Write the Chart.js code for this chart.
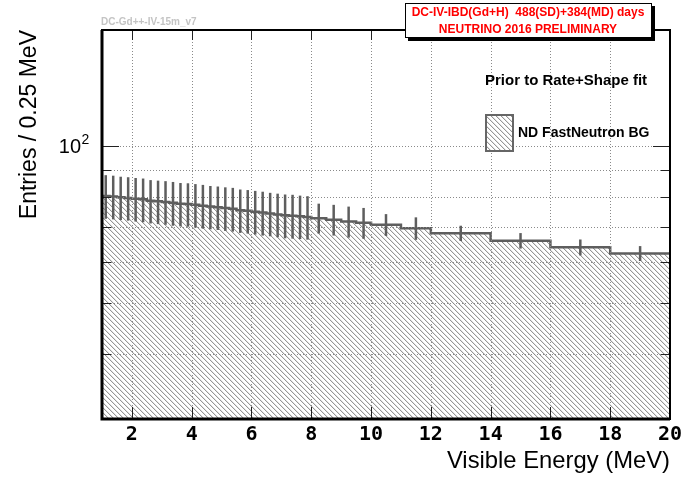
<!DOCTYPE html>
<html>
<head>
<meta charset="utf-8">
<script src="https://cdn.jsdelivr.net/npm/chart.js@4.4.1/dist/chart.umd.min.js"></script>
<style>
  html, body { margin: 0; padding: 0; background: #fff; }
</style>
</head>
<body>
<canvas id="chart-area" width="683" height="477"></canvas>
<script>
// bin edges (MeV): 0.25 MeV up to 8, then wider bins
var binEdges = [1, 1.25, 1.5, 1.75, 2, 2.25, 2.5, 2.75, 3, 3.25, 3.5, 3.75, 4, 4.25, 4.5, 4.75,
  5, 5.25, 5.5, 5.75, 6, 6.25, 6.5, 6.75, 7, 7.25, 7.5, 7.75, 8, 8.5, 9, 9.5, 10, 11, 12, 14, 16, 18, 20];
// entries / 0.25 MeV
var entries = [80.3, 80.1, 79.8, 79.6, 79.3, 79.1, 78.6, 78.4, 78.2, 77.9, 77.6, 77.5, 77.2, 76.9,
  76.6, 76.4, 76.1, 75.9, 75.4, 75.2, 74.9, 74.6, 74.3, 74.0, 73.7, 73.6, 73.4, 73.2,
  72.8, 72.3, 71.7, 71.3, 70.7, 69.6, 68.1, 65.9, 64.0, 62.3];
var errors = [7.7, 7.7, 7.6, 7.6, 7.6, 7.6, 7.5, 7.5, 7.5, 7.5, 7.4, 7.4, 7.4, 7.4,
  7.3, 7.3, 7.3, 7.3, 7.2, 7.2, 7.2, 7.2, 7.1, 7.1, 7.1, 7.1, 7.0, 7.0,
  4.8, 4.9, 4.9, 4.85, 3.4, 3.45, 2.3, 2.25, 2.25, 2.05];
var xTicks = [2, 4, 6, 8, 10, 12, 14, 16, 18, 20];
var yTicks = [40, 50, 60, 70, 80, 90, 100];

var canvas = document.getElementById("chart-area");
var ctx = canvas.getContext("2d");

// "\\\" hatch like the ROOT fill style
function makeHatch() {
  var n = 5;
  var c = document.createElement("canvas");
  c.width = n; c.height = n;
  var g = c.getContext("2d");
  var img = g.createImageData(n, n);
  for (var j = 0; j < n; j++) {
    for (var i = 0; i < n; i++) {
      var k = ((i - j) % n + n) % n;
      var v = k === 0 ? 150 : (k === 1 ? 228 : 255);
      var p = (j * n + i) * 4;
      img.data[p] = v; img.data[p + 1] = v; img.data[p + 2] = v; img.data[p + 3] = 255;
    }
  }
  g.putImageData(img, 0, 0);
  return ctx.createPattern(c, "repeat");
}
var hatch = makeHatch();

var histPoints = binEdges.map(function(x, i) {
  return { x: x, y: entries[Math.min(i, entries.length - 1)] };
});

var rootStyle = {
  id: "rootStyle",
  afterDatasetsDraw: function(chart) {
    var c = chart.ctx, a = chart.chartArea;
    var xs = chart.scales.x, ys = chart.scales.y;
    c.save();
    // dotted grid
    c.strokeStyle = "#8a8a8a";
    c.lineWidth = 1;
    c.setLineDash([1, 2]);
    xTicks.forEach(function(v) {
      if (v >= 20) return;
      var px = Math.round(xs.getPixelForValue(v)) + 0.5;
      c.beginPath(); c.moveTo(px, a.top); c.lineTo(px, a.bottom); c.stroke();
    });
    yTicks.forEach(function(v) {
      var py = Math.round(ys.getPixelForValue(v)) + 0.5;
      c.beginPath(); c.moveTo(a.left, py); c.lineTo(a.right, py); c.stroke();
    });
    c.setLineDash([]);
    // error bars
    c.strokeStyle = "#5e5e5e";
    c.lineWidth = 2.5;
    for (var i = 0; i < entries.length; i++) {
      var cx = xs.getPixelForValue((binEdges[i] + binEdges[i + 1]) / 2);
      c.beginPath();
      c.moveTo(cx, ys.getPixelForValue(entries[i] + errors[i]));
      c.lineTo(cx, ys.getPixelForValue(entries[i] - errors[i]));
      c.stroke();
    }
    // inner ticks
    c.strokeStyle = "#222";
    c.lineWidth = 1;
    xTicks.forEach(function(v) {
      var px = Math.round(xs.getPixelForValue(v)) + 0.5;
      c.beginPath(); c.moveTo(px, a.bottom); c.lineTo(px, a.bottom - 12); c.stroke();
      c.beginPath(); c.moveTo(px, a.top); c.lineTo(px, a.top + 10); c.stroke();
    });
    yTicks.forEach(function(v) {
      var py = Math.round(ys.getPixelForValue(v)) + 0.5;
      var len = v === 100 ? 17 : 9;
      c.beginPath(); c.moveTo(a.left, py); c.lineTo(a.left + len, py); c.stroke();
      c.beginPath(); c.moveTo(a.right, py); c.lineTo(a.right - len, py); c.stroke();
    });
    // frame
    c.strokeStyle = "#000";
    c.lineWidth = 2;
    c.strokeRect(a.left, a.top, a.right - a.left, a.bottom - a.top);
    c.lineWidth = 3;
    c.beginPath(); c.moveTo(a.left, a.top); c.lineTo(a.left, a.bottom); c.lineTo(a.right, a.bottom); c.stroke();
    c.restore();
  },
  afterDraw: function(chart) {
    var c = chart.ctx;
    var ys = chart.scales.y;
    c.save();
    // y tick label 10^2
    var y100 = ys.getPixelForValue(100);
    c.fillStyle = "#000";
    c.textBaseline = "middle";
    c.textAlign = "right";
    c.font = "20px 'Liberation Sans', Arial, sans-serif";
    c.fillText("10", 81, y100 + 1);
    c.textAlign = "left";
    c.font = "14px 'Liberation Sans', Arial, sans-serif";
    c.fillText("2", 81.5, y100 - 6);
    // version tag
    c.fillStyle = "#c4c4c4";
    c.font = "bold 10px 'Liberation Sans', Arial, sans-serif";
    c.fillText("DC-Gd++-IV-15m_v7", 101, 22);
    // red pave with shadow
    c.fillStyle = "#000";
    c.fillRect(652, 6, 3, 35);
    c.fillRect(408, 38, 247, 3);
    c.fillStyle = "#fff";
    c.fillRect(405, 3, 247, 35);
    c.strokeStyle = "#000";
    c.lineWidth = 1;
    c.strokeRect(405.5, 3.5, 246, 34);
    c.fillStyle = "#ff0000";
    c.font = "bold 12px 'Liberation Sans', Arial, sans-serif";
    c.textAlign = "center";
    c.fillText("DC-IV-IBD(Gd+H)  488(SD)+384(MD) days", 528, 12.5);
    c.fillText("NEUTRINO 2016 PRELIMINARY", 528, 30);
    // legend
    c.fillStyle = "#000";
    c.textAlign = "left";
    c.font = "bold 15px 'Liberation Sans', Arial, sans-serif";
    c.fillText("Prior to Rate+Shape fit", 485, 81);
    c.fillStyle = hatch;
    c.fillRect(486, 115, 27, 36);
    c.strokeStyle = "#666";
    c.lineWidth = 2;
    c.strokeRect(486, 115, 27, 36);
    c.fillStyle = "#000";
    c.font = "bold 14px 'Liberation Sans', Arial, sans-serif";
    c.fillText("ND FastNeutron BG", 518, 133);
    c.restore();
  }
};

var options = {
  responsive: false,
  animation: false,
  layout: { padding: { top: 30, right: 13, left: 0, bottom: 0 } },
  plugins: { legend: { display: false }, tooltip: { enabled: false } },
  scales: {
    x: {
      type: "linear",
      min: 1,
      max: 20,
      afterBuildTicks: function(scale) {
        scale.ticks = xTicks.map(function(v) { return { value: v }; });
      },
      afterFit: function(scale) { scale.height = 58; },
      grid: { display: false },
      border: { display: false },
      ticks: {
        autoSkip: false,
        maxRotation: 0,
        padding: -4,
        color: "#000",
        font: { family: "'DejaVu Sans Mono', monospace", size: 20, weight: "bold" }
      },
      title: {
        display: true,
        text: "Visible Energy (MeV)",
        align: "end",
        color: "#000",
        font: { family: "'Liberation Sans', Arial, sans-serif", size: 23.8 },
        padding: { top: 0, bottom: 1 }
      }
    },
    y: {
      type: "logarithmic",
      min: 30,
      max: 167,
      afterBuildTicks: function(scale) {
        scale.ticks = yTicks.map(function(v) { return { value: v }; });
      },
      afterFit: function(scale) { scale.width = 102; },
      grid: { display: false },
      border: { display: false },
      ticks: {
        display: false
      },
      title: {
        display: true,
        text: "Entries / 0.25 MeV",
        align: "end",
        color: "#000",
        font: { family: "'Liberation Sans', Arial, sans-serif", size: 23 },
        padding: { top: 16 }
      }
    }
  }
};

var chart = new Chart(ctx, {
  type: "line",
  data: {
    datasets: [{
      label: "ND FastNeutron BG",
      data: histPoints,
      stepped: true,
      borderColor: "#5e5e5e",
      borderWidth: 2.5,
      backgroundColor: hatch,
      fill: "start",
      pointRadius: 0,
      tension: 0
    }]
  },
  options: options,
  plugins: [rootStyle]
});
</script>
</body>
</html>
